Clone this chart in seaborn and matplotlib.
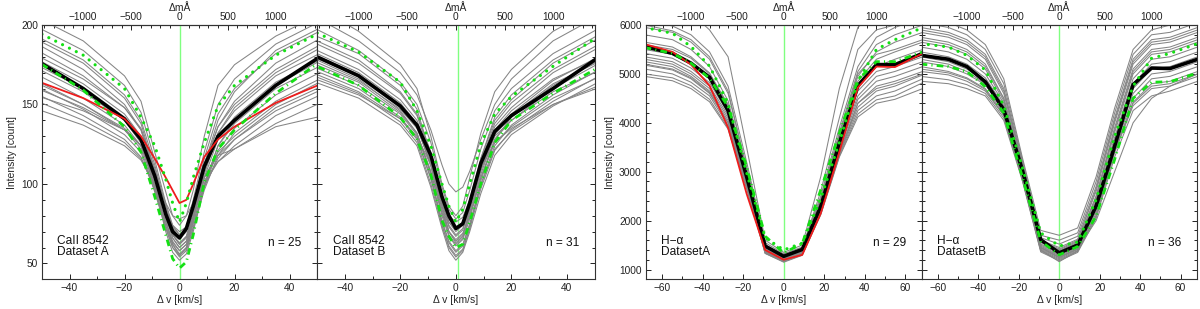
"""Ca II 8542 and H-alpha line profiles for two datasets (four panels)."""

import numpy as np
import pandas as pd
import matplotlib
matplotlib.use("Agg")
import matplotlib.pyplot as plt
from matplotlib.ticker import MultipleLocator
import seaborn as sns

# mÅ per km/s at the line centre
MA_PER_KMS_CA = 8542.0e3 / 299792.458
MA_PER_KMS_HA = 6563.0e3 / 299792.458

# ---- Ca II 8542: velocity grid [km/s] ----
CA_V = [-60, -35, -20, -14, -9, -5, -2.5, 0, 2.5, 5, 9, 14, 20, 35, 60]

CA_A_MEAN = [186, 160, 141, 128, 105, 81, 70, 66, 72, 86, 111, 130, 140, 162, 190]
CA_A_RED  = [170, 154, 141, 130, 116, 104, 96, 88, 90, 100, 117, 128, 136, 151, 169]
CA_A_UP   = [203, 181, 160, 142, 124, 103, 88, 76, 88, 104, 126, 149, 162, 181, 203]
CA_A_LOW  = [186, 159, 136, 120, 92, 68, 53, 47, 51, 68, 101, 122, 134, 157, 188]
CA_A_GRAY = [
    [212, 190, 168, 152, 120, 95, 80, 74, 80, 96, 130, 162, 175, 193, 214],
    [206, 184, 162, 145, 115, 88, 74, 68, 73, 90, 120, 150, 166, 188, 210],
    [200, 178, 156, 140, 112, 86, 72, 66, 70, 86, 116, 144, 160, 182, 204],
    [192, 168, 148, 134, 108, 82, 68, 62, 67, 82, 110, 136, 150, 172, 196],
    [186, 163, 144, 130, 104, 80, 66, 60, 64, 80, 108, 132, 146, 168, 190],
    [180, 158, 140, 126, 100, 76, 63, 58, 62, 77, 104, 128, 142, 164, 186],
    [176, 154, 137, 124, 98, 74, 62, 56, 60, 75, 100, 124, 138, 160, 182],
    [172, 150, 134, 122, 96, 73, 60, 55, 59, 73, 98, 121, 135, 156, 178],
    [168, 147, 131, 120, 95, 72, 60, 54, 58, 72, 96, 118, 132, 152, 174],
    [163, 143, 128, 117, 96, 76, 64, 58, 62, 76, 98, 116, 128, 148, 168],
    [158, 140, 126, 116, 98, 80, 68, 62, 66, 80, 100, 114, 124, 143, 163],
    [152, 137, 124, 115, 100, 84, 73, 68, 72, 84, 102, 114, 122, 138, 158],
    [170, 150, 135, 124, 102, 80, 68, 63, 67, 80, 104, 118, 122, 136, 146],
    [188, 166, 148, 135, 110, 86, 72, 66, 70, 86, 113, 136, 152, 176, 200],
    [196, 172, 150, 134, 106, 80, 66, 60, 64, 78, 106, 132, 148, 170, 194],
    [160, 146, 134, 124, 104, 84, 74, 70, 73, 84, 104, 120, 130, 150, 172],
    [198, 176, 154, 138, 108, 78, 62, 55, 60, 78, 112, 140, 158, 184, 206],
    [166, 148, 134, 124, 106, 88, 80, 78, 80, 88, 104, 118, 128, 146, 166],
    [182, 160, 140, 126, 98, 70, 57, 52, 56, 70, 98, 124, 140, 162, 186],
]

CA_B_MEAN = [188, 168, 149, 137, 118, 92, 80, 72, 75, 88, 113, 133, 143, 160, 190]
CA_B_UP   = [203, 183, 164, 146, 124, 100, 86, 76, 84, 100, 125, 144, 155, 174, 203]
CA_B_LOW  = [182, 162, 142, 128, 106, 77, 67, 60, 62, 76, 100, 126, 140, 157, 182]
CA_B_GRAY = [
    [222, 196, 175, 160, 130, 100, 86, 80, 86, 104, 132, 158, 172, 196, 220],
    [214, 190, 170, 156, 134, 112, 100, 95, 98, 108, 128, 150, 166, 190, 214],
    [206, 184, 164, 150, 126, 98, 84, 78, 82, 96, 122, 146, 160, 182, 206],
    [198, 178, 158, 144, 120, 92, 78, 72, 76, 90, 116, 140, 153, 176, 200],
    [192, 172, 153, 140, 116, 88, 74, 68, 72, 86, 112, 136, 148, 170, 194],
    [186, 168, 149, 136, 112, 84, 70, 64, 68, 82, 108, 132, 144, 165, 188],
    [182, 164, 145, 132, 108, 80, 67, 61, 65, 78, 104, 128, 140, 160, 184],
    [178, 160, 142, 129, 104, 77, 64, 58, 62, 75, 100, 124, 137, 156, 180],
    [174, 157, 139, 126, 100, 74, 61, 55, 59, 72, 97, 121, 134, 152, 176],
    [170, 154, 137, 124, 98, 72, 58, 52, 57, 70, 94, 118, 131, 149, 172],
    [184, 165, 147, 135, 113, 88, 76, 71, 74, 86, 110, 130, 140, 158, 178],
    [190, 170, 151, 138, 114, 86, 73, 67, 71, 84, 110, 134, 146, 166, 186],
    [180, 162, 144, 131, 107, 82, 70, 65, 69, 80, 104, 126, 136, 154, 174],
    [196, 176, 157, 143, 118, 90, 76, 70, 74, 88, 114, 138, 151, 172, 196],
    [176, 158, 141, 128, 103, 76, 63, 57, 61, 74, 99, 122, 133, 150, 168],
    [188, 169, 150, 137, 111, 82, 68, 62, 66, 80, 106, 131, 143, 163, 184],
    [200, 182, 162, 147, 118, 86, 70, 63, 67, 84, 116, 142, 156, 178, 202],
    [172, 156, 141, 130, 112, 90, 80, 76, 79, 90, 110, 126, 135, 150, 166],
    [186, 166, 146, 132, 106, 74, 60, 54, 58, 72, 102, 128, 142, 162, 186],
]

# ---- H-alpha: wavelength grid [mÅ] ----
HA_MA = [-1500, -1200, -1000, -800, -600, -400, -200, 0,
         200, 400, 600, 800, 1000, 1200, 1500]

HA_A_MEAN = [5560, 5420, 5220, 4930, 4250, 2900, 1480, 1270, 1410, 2290, 3580, 4760, 5190, 5190, 5420]
HA_A_RED  = [5610, 5450, 5190, 4760, 3900, 2550, 1400, 1200, 1300, 2150, 3400, 4720, 5150, 5140, 5420]
HA_A_UP   = [5950, 5830, 5560, 5160, 4400, 2980, 1650, 1400, 1540, 2450, 3600, 4850, 5500, 5700, 5950]
HA_A_LOW  = [5540, 5420, 5220, 4910, 4330, 3100, 1680, 1340, 1530, 2630, 3790, 4880, 5250, 5250, 5450]
HA_A_GRAY = [
    [6600, 6450, 6250, 5900, 5350, 3500, 1600, 1350, 1500, 2900, 4700, 5950, 6300, 6450, 6650],
    [6100, 5980, 5800, 5450, 4750, 3200, 1550, 1320, 1460, 2500, 3900, 5150, 5750, 5950, 6150],
    [6000, 5880, 5700, 5350, 4650, 3050, 1480, 1290, 1430, 2600, 4100, 5500, 5900, 6000, 6150],
    [5950, 5850, 5650, 5300, 4600, 3100, 1500, 1300, 1440, 2450, 3800, 5050, 5600, 5800, 6000],
    [5800, 5700, 5500, 5150, 4450, 3000, 1470, 1280, 1420, 2400, 3700, 4950, 5450, 5650, 5850],
    [5650, 5550, 5350, 5020, 4350, 2950, 1440, 1260, 1400, 2350, 3650, 4850, 5300, 5450, 5650],
    [5500, 5400, 5200, 4900, 4250, 2900, 1420, 1240, 1380, 2300, 3600, 4750, 5150, 5300, 5500],
    [5420, 5320, 5120, 4820, 4200, 2870, 1400, 1230, 1370, 2280, 3550, 4650, 5050, 5150, 5350],
    [5350, 5250, 5050, 4750, 4150, 2840, 1390, 1220, 1360, 2250, 3500, 4550, 4950, 5050, 5250],
    [5300, 5200, 5000, 4700, 4100, 2800, 1380, 1210, 1350, 2220, 3450, 4480, 4850, 4950, 5150],
    [5250, 5150, 4950, 4650, 4050, 2770, 1370, 1200, 1340, 2200, 3400, 4400, 4750, 4850, 5050],
    [5180, 5080, 4900, 4600, 4000, 2740, 1360, 1190, 1330, 2180, 3380, 4320, 4650, 4750, 4980],
    [5100, 5000, 4830, 4550, 3950, 2700, 1350, 1180, 1320, 2160, 3350, 4250, 4550, 4650, 4900],
    [5000, 4920, 4760, 4480, 3900, 2680, 1340, 1170, 1310, 2140, 3320, 4180, 4470, 4550, 4820],
    [4950, 4860, 4700, 4430, 3870, 2650, 1330, 1160, 1300, 2120, 3300, 4120, 4400, 4480, 4700],
    [5600, 5500, 5320, 5000, 4380, 3050, 1500, 1290, 1430, 2400, 3750, 5000, 5400, 5500, 5700],
    [5200, 5100, 4920, 4620, 4000, 2700, 1330, 1150, 1290, 2150, 3350, 4400, 4700, 4800, 5000],
]

HA_B_MEAN = [5380, 5300, 5150, 4840, 4270, 3040, 1610, 1340, 1500, 2300, 3520, 4780, 5120, 5110, 5300]
HA_B_UP   = [5620, 5550, 5380, 5080, 4350, 3100, 1750, 1480, 1560, 2430, 3720, 4750, 5320, 5420, 5620]
HA_B_LOW  = [5200, 5150, 5050, 4740, 4200, 2900, 1580, 1300, 1470, 2090, 3250, 4500, 4830, 4840, 5020]
HA_B_GRAY = [
    [6150, 6050, 5900, 5600, 4900, 3300, 1800, 1700, 1850, 2900, 4300, 5500, 5900, 6000, 6200],
    [6050, 5950, 5800, 5500, 4800, 3250, 1700, 1600, 1750, 2800, 4200, 5400, 5800, 5850, 6050],
    [5950, 5850, 5700, 5400, 4700, 3200, 1650, 1520, 1680, 2700, 4100, 5300, 5700, 5750, 5950],
    [5850, 5750, 5600, 5300, 4600, 3150, 1600, 1450, 1620, 2600, 4000, 5200, 5600, 5650, 5850],
    [5750, 5650, 5500, 5200, 4500, 3100, 1560, 1400, 1580, 2500, 3900, 5100, 5500, 5550, 5750],
    [5650, 5550, 5400, 5100, 4450, 3050, 1520, 1360, 1540, 2450, 3800, 5000, 5400, 5450, 5650],
    [5550, 5450, 5300, 5000, 4400, 3000, 1500, 1330, 1500, 2400, 3700, 4900, 5300, 5350, 5550],
    [5450, 5350, 5200, 4920, 4350, 2980, 1480, 1300, 1470, 2350, 3650, 4800, 5200, 5250, 5450],
    [5350, 5250, 5100, 4850, 4300, 2950, 1460, 1280, 1450, 2300, 3600, 4700, 5100, 5150, 5350],
    [5250, 5150, 5000, 4780, 4250, 2920, 1440, 1260, 1430, 2250, 3550, 4600, 5000, 5050, 5250],
    [5150, 5050, 4920, 4700, 4200, 2900, 1420, 1240, 1410, 2200, 3500, 4500, 4900, 4950, 5150],
    [5050, 4980, 4850, 4650, 4150, 2880, 1400, 1220, 1390, 2150, 3450, 4420, 4800, 4850, 5050],
    [4950, 4880, 4780, 4600, 4100, 2850, 1380, 1200, 1370, 2100, 3400, 4350, 4700, 4750, 4950],
    [4850, 4800, 4700, 4550, 4050, 2820, 1360, 1180, 1350, 2050, 3300, 4250, 4550, 4650, 4850],
    [5300, 5200, 5050, 4800, 4250, 2900, 1450, 1250, 1420, 2000, 3000, 4000, 4500, 4750, 5000],
    [5700, 5600, 5450, 5150, 4500, 3100, 1550, 1380, 1560, 2500, 3850, 5050, 5450, 5500, 5700],
    [5900, 5800, 5650, 5350, 4650, 3200, 1600, 1420, 1600, 2650, 4050, 5250, 5650, 5700, 5900],
    [5100, 5020, 4900, 4680, 4150, 2850, 1400, 1160, 1380, 2100, 3400, 4400, 4750, 4800, 5000],
]

GRAY  = "#858585"
GREEN = "#14e014"
VLINE = "#80ff80"
W, H = 1200, 309

sns.set_theme(style="ticks")
plt.rcParams["font.family"] = ["Liberation Sans", "DejaVu Sans"]
plt.rcParams["axes.linewidth"] = 0.8


def long_frame(v, profiles):
    rows = [(k, x, y) for k, prof in enumerate(profiles) for x, y in zip(v, prof)]
    return pd.DataFrame(rows, columns=["profile", "v", "I"])


def draw_panel(ax, v, gray, mean, up, low, red, label, n, xlim, ylim,
               ma_per_kms, ymaj, ymin, left_labels, vzero):
    ax.axvline(vzero, color=VLINE, lw=1.0, zorder=1)
    sns.lineplot(data=long_frame(v, gray), x="v", y="I", units="profile",
                 estimator=None, color=GRAY, lw=0.75, ax=ax, legend=False)
    sns.lineplot(x=v, y=mean, color="black", lw=2.6, ax=ax)
    if red is not None:
        sns.lineplot(x=v, y=red, color="#ee1c1c", lw=1.3, ax=ax)
    sns.lineplot(x=v, y=up, color=GREEN, lw=2.3, ax=ax,
                 linestyle=(0, (0.01, 2.4)), dash_capstyle="round")
    sns.lineplot(x=v, y=low, color=GREEN, lw=2.0, ax=ax,
                 linestyle=(0, (2.4, 1.5, 0.4, 1.5)))

    ax.set_xlim(-xlim, xlim)
    ax.set_ylim(*ylim)
    ax.xaxis.set_major_locator(MultipleLocator(20))
    ax.xaxis.set_minor_locator(MultipleLocator(10))
    ax.yaxis.set_major_locator(MultipleLocator(ymaj))
    ax.yaxis.set_minor_locator(MultipleLocator(ymin))
    ax.tick_params(which="both", direction="in", top=False, right=True,
                   left=True, bottom=True, labelsize=7.3, pad=3,
                   labelleft=left_labels, colors="#222222")
    ax.tick_params(which="major", length=3.6, width=0.7)
    ax.tick_params(which="minor", length=2.4, width=0.7)
    ax.set_xlabel("\u0394 v [km/s]", fontsize=7.5, labelpad=1)
    if left_labels:
        ax.set_ylabel("Intensity [count]", fontsize=7.5, labelpad=3)
    else:
        ax.set_ylabel("")

    top = ax.secondary_xaxis("top", functions=(lambda x: x * ma_per_kms,
                                               lambda m: m / ma_per_kms))
    top.set_xticks([-1000, -500, 0, 500, 1000])
    top.xaxis.set_minor_locator(MultipleLocator(100))
    top.tick_params(which="both", direction="in", labelsize=7.3, pad=2,
                    colors="#222222")
    top.tick_params(which="major", length=3.6, width=0.7)
    top.tick_params(which="minor", length=2.0, width=0.7)
    top.set_xlabel("\u0394m\u00c5", fontsize=7.5, labelpad=1)

    ax.text(0.056, 0.085, label, transform=ax.transAxes, ha="left",
            va="bottom", fontsize=8.6, linespacing=0.9, color="#111111")
    ax.text(0.944, 0.142, f"n = {n}", transform=ax.transAxes, ha="right",
            va="center", fontsize=8.6, color="#111111")
    for s in ax.spines.values():
        s.set_color("#333333")


fig = plt.figure(figsize=(W / 100, H / 100), dpi=100)

ha_v = list(np.array(HA_MA) / MA_PER_KMS_HA)
panels = [
    # rect in pixels: left, top, width, height
    dict(rect=(42, 25, 275, 254.3), v=CA_V, gray=CA_A_GRAY, mean=CA_A_MEAN,
         up=CA_A_UP, low=CA_A_LOW, red=CA_A_RED, label="CaII 8542\nDataset A",
         n=25, xlim=50, ylim=(40, 200), ma_per_kms=MA_PER_KMS_CA,
         ymaj=50, ymin=10, left_labels=True, vzero=0.0),
    dict(rect=(317, 25, 277.7, 254.3), v=CA_V, gray=CA_B_GRAY, mean=CA_B_MEAN,
         up=CA_B_UP, low=CA_B_LOW, red=None, label="CaII 8542\nDataset B",
         n=31, xlim=50, ylim=(40, 200), ma_per_kms=MA_PER_KMS_CA,
         ymaj=50, ymin=10, left_labels=False, vzero=0.9),
    dict(rect=(645.7, 25, 276, 254.3), v=ha_v, gray=HA_A_GRAY, mean=HA_A_MEAN,
         up=HA_A_UP, low=HA_A_LOW, red=HA_A_RED, label="H\u2212\u03b1\nDatasetA",
         n=29, xlim=68, ylim=(800, 6000), ma_per_kms=MA_PER_KMS_HA,
         ymaj=1000, ymin=200, left_labels=True, vzero=0.0),
    dict(rect=(921.7, 25, 275, 254.3), v=ha_v, gray=HA_B_GRAY, mean=HA_B_MEAN,
         up=HA_B_UP, low=HA_B_LOW, red=None, label="H\u2212\u03b1\nDatasetB",
         n=36, xlim=68, ylim=(800, 6000), ma_per_kms=MA_PER_KMS_HA,
         ymaj=1000, ymin=200, left_labels=False, vzero=0.0),
]

for p in panels:
    l, t, w, h = p.pop("rect")
    ax = fig.add_axes([l / W, 1 - (t + h) / H, w / W, h / H])
    draw_panel(ax, **p)

fig.savefig("out.png", dpi=100)
